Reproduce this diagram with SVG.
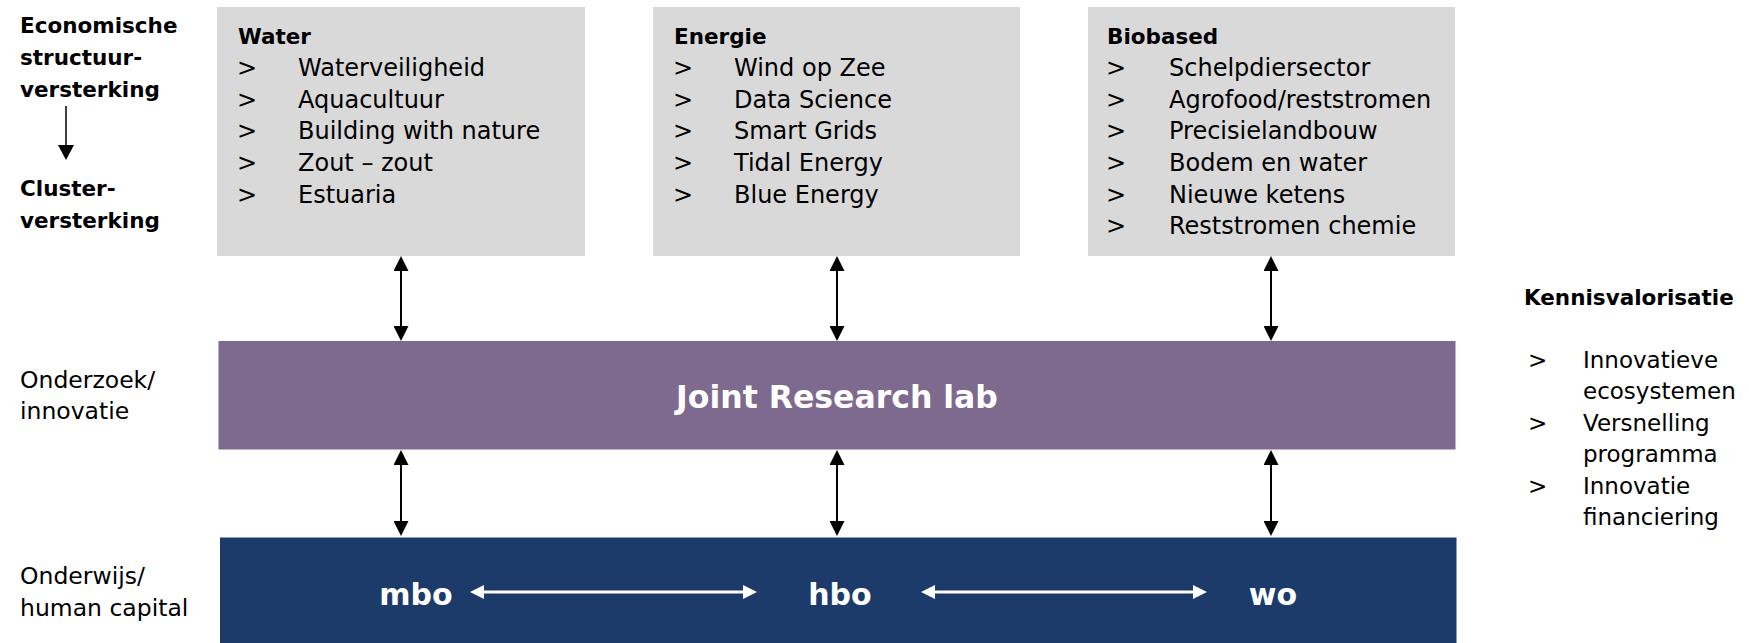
<svg xmlns="http://www.w3.org/2000/svg" width="1749" height="643" viewBox="0 0 1749 643">
<style>
  text { font-family: "DejaVu Sans", "Liberation Sans", sans-serif; fill: #000; }
  .hd { font-weight: bold; font-size: 21.5px; }
  .it { font-size: 24px; }
  .lb { font-size: 23.5px; }
  .rb { font-size: 23px; }
  .lbb { font-weight: bold; font-size: 21.5px; }
  .wt { fill: #fff; font-weight: bold; text-anchor: middle; }
  .grey { fill: #d9d9d9; }
  .blk { stroke: #000; stroke-width: 2; fill: none; marker-start: url(#ah); marker-end: url(#ah); }
  .wht { stroke: #fff; stroke-width: 3; fill: none; marker-start: url(#wh); marker-end: url(#wh); }
</style>
<defs>
  <marker id="ah" viewBox="0 0 15 15" markerWidth="15" markerHeight="15" refX="5" refY="7.5" orient="auto-start-reverse" markerUnits="userSpaceOnUse">
    <path d="M0,0 L15,7.5 L0,15 z" fill="#000"/>
  </marker>
  <marker id="wh" viewBox="0 0 14 14" markerWidth="14" markerHeight="14" refX="5" refY="7" orient="auto-start-reverse" markerUnits="userSpaceOnUse">
    <path d="M0,0 L14,7 L0,14 z" fill="#fff"/>
  </marker>
  <marker id="dn" viewBox="0 0 15 16" markerWidth="15" markerHeight="16" refX="5" refY="8" orient="auto" markerUnits="userSpaceOnUse">
    <path d="M0,0 L15,8 L0,16 z" fill="#000"/>
  </marker>
</defs>

<g id="left-labels">
  <text class="lbb" x="20" y="33">Economische</text>
  <text class="lbb" x="20" y="65">structuur-</text>
  <text class="lbb" x="20" y="97">versterking</text>
  <text class="lbb" x="20" y="196">Cluster-</text>
  <text class="lbb" x="20" y="228">versterking</text>
  <text class="lb" x="20" y="388">Onderzoek/</text>
  <text class="lb" x="20" y="419">innovatie</text>
  <text class="lb" x="20" y="584">Onderwijs/</text>
  <text class="lb" x="20" y="616">human capital</text>
</g>

<g id="water">
  <rect class="grey" x="217" y="7" width="368" height="249"/>
  <text class="hd" x="238" y="44">Water</text>
  <text class="it" x="237" y="76">&gt;</text><text class="it" x="298" y="76">Waterveiligheid</text>
  <text class="it" x="237" y="108">&gt;</text><text class="it" x="298" y="108">Aquacultuur</text>
  <text class="it" x="237" y="139">&gt;</text><text class="it" x="298" y="139">Building with nature</text>
  <text class="it" x="237" y="171">&gt;</text><text class="it" x="298" y="171">Zout – zout</text>
  <text class="it" x="237" y="203">&gt;</text><text class="it" x="298" y="203">Estuaria</text>
</g>

<g id="energie">
  <rect class="grey" x="653" y="7" width="367" height="249"/>
  <text class="hd" x="674" y="44">Energie</text>
  <text class="it" x="673" y="76">&gt;</text><text class="it" x="734" y="76">Wind op Zee</text>
  <text class="it" x="673" y="108">&gt;</text><text class="it" x="734" y="108">Data Science</text>
  <text class="it" x="673" y="139">&gt;</text><text class="it" x="734" y="139">Smart Grids</text>
  <text class="it" x="673" y="171">&gt;</text><text class="it" x="734" y="171">Tidal Energy</text>
  <text class="it" x="673" y="203">&gt;</text><text class="it" x="734" y="203">Blue Energy</text>
</g>

<g id="biobased">
  <rect class="grey" x="1088" y="7" width="367" height="249"/>
  <text class="hd" x="1107" y="44">Biobased</text>
  <text class="it" x="1106" y="76">&gt;</text><text class="it" x="1169" y="76">Schelpdiersector</text>
  <text class="it" x="1106" y="108">&gt;</text><text class="it" x="1169" y="108">Agrofood/reststromen</text>
  <text class="it" x="1106" y="139">&gt;</text><text class="it" x="1169" y="139">Precisielandbouw</text>
  <text class="it" x="1106" y="171">&gt;</text><text class="it" x="1169" y="171">Bodem en water</text>
  <text class="it" x="1106" y="203">&gt;</text><text class="it" x="1169" y="203">Nieuwe ketens</text>
  <text class="it" x="1106" y="234">&gt;</text><text class="it" x="1169" y="234">Reststromen chemie</text>
</g>

<g id="joint-research-lab">
  <rect x="218.5" y="341" width="1237" height="108.5" fill="#7e6a8f"/>
  <text class="wt" x="837" y="408" font-size="31.5px">Joint Research lab</text>
</g>

<g id="onderwijs">
  <rect x="220" y="537.5" width="1236.5" height="106" fill="#1c3b6a"/>
  <text class="wt" x="416" y="605" font-size="30px">mbo</text>
  <text class="wt" x="840" y="605" font-size="30px">hbo</text>
  <text class="wt" x="1273" y="605" font-size="30px">wo</text>
</g>

<g id="kennisvalorisatie">
  <text class="lbb" x="1524" y="305">Kennisvalorisatie</text>
  <text class="rb" x="1528" y="368">&gt;</text><text class="rb" x="1583" y="368">Innovatieve</text>
  <text class="rb" x="1583" y="399">ecosystemen</text>
  <text class="rb" x="1528" y="431">&gt;</text><text class="rb" x="1583" y="431">Versnelling</text>
  <text class="rb" x="1583" y="462">programma</text>
  <text class="rb" x="1528" y="494">&gt;</text><text class="rb" x="1583" y="494">Innovatie</text>
  <text class="rb" x="1583" y="525">financiering</text>
</g>

<g id="connectors">
  <line x1="66" y1="106" x2="66" y2="150" stroke="#000" stroke-width="1.5" marker-end="url(#dn)"/>
  <line class="blk" x1="401" y1="266" x2="401" y2="331"/>
  <line class="blk" x1="837" y1="266" x2="837" y2="331"/>
  <line class="blk" x1="1271" y1="266" x2="1271" y2="331"/>
  <line class="blk" x1="401" y1="460" x2="401" y2="526"/>
  <line class="blk" x1="837" y1="460" x2="837" y2="526"/>
  <line class="blk" x1="1271" y1="460" x2="1271" y2="526"/>
  <line class="wht" x1="479" y1="592" x2="748" y2="592"/>
  <line class="wht" x1="930" y1="592" x2="1198" y2="592"/>
</g>
</svg>
